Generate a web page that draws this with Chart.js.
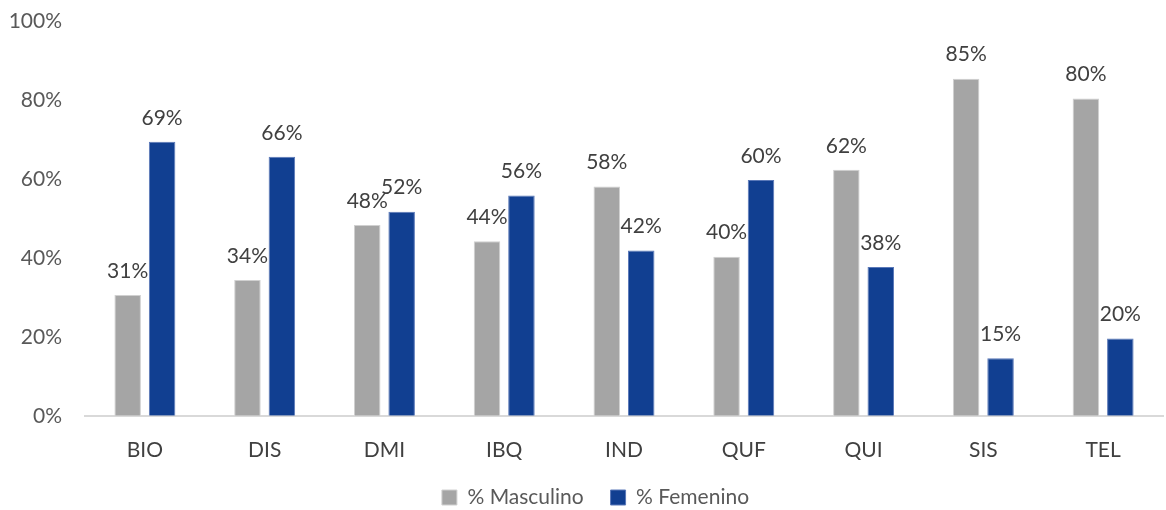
<!DOCTYPE html>
<html>
<head>
<meta charset="utf-8">
<script src="https://cdn.jsdelivr.net/npm/chart.js@4"></script>
<style>
  html, body { margin: 0; padding: 0; background: #fff; }
  #wrap { width: 1166px; height: 510px; }
</style>
</head>
<body>
<div id="wrap"><canvas id="chart"></canvas></div>
<script>
const categories = ["BIO", "DIS", "DMI", "IBQ", "IND", "QUF", "QUI", "SIS", "TEL"];
const masculino = [30.6, 34.4, 48.3, 44.2, 58.1, 40.3, 62.3, 85.4, 80.4];
const femenino = [69.4, 65.6, 51.7, 55.8, 41.9, 59.7, 37.7, 14.6, 19.6];
const yTicks = [0, 20, 40, 60, 80, 100];

const FONT = "Lato, 'Liberation Sans', sans-serif";

// draw the value labels above each bar
const barLabels = {
  id: "barLabels",
  afterDatasetsDraw(chart) {
    const ctx = chart.ctx;
    ctx.save();
    ctx.font = "21px " + FONT;
    ctx.fillStyle = "#404040";
    ctx.textAlign = "center";
    ctx.textBaseline = "middle";
    chart.data.datasets.forEach((ds, i) => {
      chart.getDatasetMeta(i).data.forEach((bar, j) => {
        ctx.fillText(Math.round(ds.data[j]) + "%", bar.x, bar.y - 24);
      });
    });
    ctx.restore();
  },
};

// nudge the legend a bit lower / right like the original
const legendShift = {
  id: "legendShift",
  afterLayout(chart) {
    const lg = chart.legend;
    if (!lg) return;
    lg.top += 10;
    lg.bottom += 10;
    lg.left += 14;
    lg.right += 14;
  },
};

new Chart(document.getElementById("chart"), {
  type: "bar",
  data: {
    labels: categories,
    datasets: [
      {
        label: "% Masculino",
        data: masculino,
        backgroundColor: "#a5a5a5",
        borderColor: "#d0d0d0",
        borderWidth: 1,
        categoryPercentage: 0.575,
        barPercentage: 0.77,
      },
      {
        label: "% Femenino",
        data: femenino,
        backgroundColor: "#113f91",
        borderColor: "#5a78b8",
        borderWidth: 1,
        categoryPercentage: 0.575,
        barPercentage: 0.77,
      },
    ],
  },
  options: {
    responsive: true,
    maintainAspectRatio: false,
    animation: false,
    layout: { padding: { top: 21, right: 3, left: 0, bottom: 2 } },
    plugins: {
      legend: {
        display: true,
        position: "bottom",
        labels: {
          font: { family: FONT, size: 21 },
          color: "#595959",
          boxWidth: 15,
          boxHeight: 15,
          padding: 0,
          useBorderRadius: false,
          generateLabels(chart) {
            // keep default items, just add spacing between them via text
            return Chart.defaults.plugins.legend.labels.generateLabels(chart).map((it, i) => {
              it.text = it.text + (i === 0 ? "     " : "");
              return it;
            });
          },
        },
      },
      tooltip: { enabled: false },
    },
    scales: {
      x: {
        grid: { display: false },
        border: { display: true, color: "#d9d9d9", width: 2 },
        ticks: {
          font: { family: FONT, size: 21 },
          color: "#404040",
          padding: 14,
        },
      },
      y: {
        min: 0,
        max: 100,
        afterFit(scale) {
          scale.width = 85;
          scale.paddingTop = 0;
        },
        afterBuildTicks(scale) {
          scale.ticks = yTicks.map((v) => ({ value: v }));
        },
        grid: { display: false },
        border: { display: false },
        ticks: {
          font: { family: FONT, size: 21 },
          color: "#595959",
          padding: 15,
          callback: (v) => v + "%",
        },
      },
    },
  },
  plugins: [barLabels, legendShift],
});
</script>
</body>
</html>
